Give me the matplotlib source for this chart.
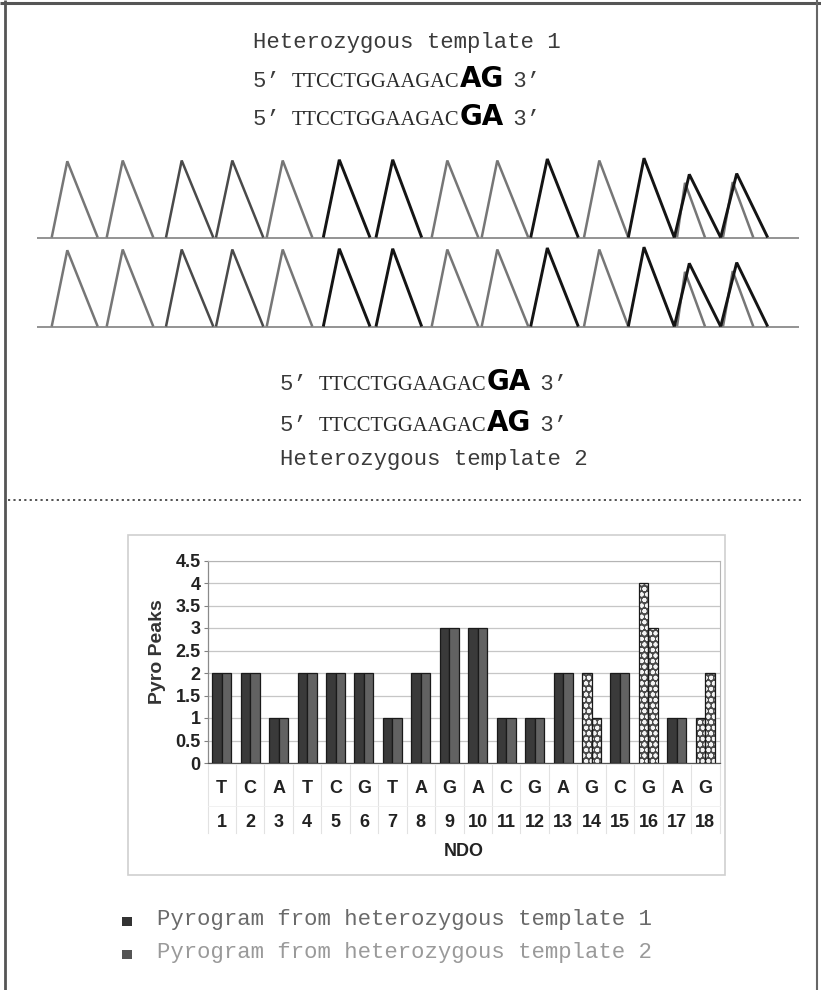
import matplotlib
matplotlib.use('Agg')
import matplotlib.pyplot as plt
import numpy as np
from matplotlib.patches import Rectangle

W, H, DPI = 821, 990, 100

# ---------------- data ----------------
dispensation = ['T', 'C', 'A', 'T', 'C', 'G', 'T', 'A', 'G', 'A', 'C', 'G', 'A', 'G', 'C', 'G', 'A', 'G']
ndo = list(range(1, 19))
template1_peaks = [2, 2, 1, 2, 2, 2, 1, 2, 3, 3, 1, 1, 2, 2, 2, 4, 1, 1]
template2_peaks = [2, 2, 1, 2, 2, 2, 1, 2, 3, 3, 1, 1, 2, 1, 2, 3, 1, 2]
y_ticks = [0, 0.5, 1, 1.5, 2, 2.5, 3, 3.5, 4, 4.5]

# pyrogram trace (flow-time units, relative peak height)
peak_start = [51.7, 106.7, 166, 216, 266.7, 323.3, 376, 431.7, 481.7, 530.7, 584, 628.3, 677, 674.3, 723, 720.7]
peak_apex = [67.3, 122.7, 181.7, 232.3, 282.7, 339.3, 392.7, 447.3, 497.3, 547.3, 599.3, 644, 685, 689.3, 732.7, 736.7]
peak_end = [97.7, 153.3, 213.3, 263.3, 312.3, 370, 421.7, 478.3, 528.3, 578.3, 628.3, 674.3, 705, 720.7, 753.3, 767.7]
peak_height = [0.99, 1.0, 1.0, 1.0, 1.0, 1.01, 1.01, 1.0, 1.0, 1.02, 1.0, 1.03, 0.71, 0.82, 0.72, 0.83]
peak_tone = ['grey', 'grey', 'dark', 'dark', 'grey', 'black', 'black', 'grey', 'grey', 'black',
             'grey', 'black', 'grey', 'black', 'grey', 'black']
trace_range = [37, 799]

header_top = 'Heterozygous template 1'
seq_top = [('TTCCTGGAAGAC', 'AG'), ('TTCCTGGAAGAC', 'GA')]
seq_bottom = [('TTCCTGGAAGAC', 'GA'), ('TTCCTGGAAGAC', 'AG')]
footer_bottom = 'Heterozygous template 2'
legend_labels = ['Pyrogram from heterozygous template 1', 'Pyrogram from heterozygous template 2']

# ---------------- styles ----------------
MONO = ['Liberation Mono', 'DejaVu Sans Mono']
SERIF = ['Liberation Serif', 'DejaVu Serif']
SANS = ['Liberation Sans', 'DejaVu Sans']
tone_color = {'grey': '#767676', 'dark': '#4a4a4a', 'black': '#141414'}
plt.rcParams['hatch.linewidth'] = 1.3

fig = plt.figure(figsize=(W / DPI, H / DPI), dpi=DPI)
fig.patch.set_facecolor('white')

# overlay axes in pixel units
ov = fig.add_axes([0, 0, 1, 1], zorder=0)
ov.set_xlim(0, W)
ov.set_ylim(H, 0)
ov.axis('off')

# frame
ov.plot([5, 5], [0, H], color='#555555', lw=2.0, solid_capstyle='butt')
ov.plot([0, W], [3, 3], color='#555555', lw=2.2, solid_capstyle='butt')
ov.plot([817, 817], [0, H], color='#666666', lw=1.5, solid_capstyle='butt')

# dotted separator
ov.plot([8, 803], [500, 500], color='#444444', lw=1.3, linestyle=(0, (1.2, 1.8)))

fig.canvas.draw()
renderer = fig.canvas.get_renderer()
inv = ov.transData.inverted()


def right_x(t):
    bb = t.get_window_extent(renderer)
    return inv.transform((bb.x1, bb.y0))[0]


MONO_SIZE = 16.0
TXT_COLOR = '#3a3a3a'
PRIME = '\u2019'


def seq_line(x, y, seq, snp):
    t0 = ov.text(x, y, '5' + PRIME + ' ', family=MONO, fontsize=MONO_SIZE, color=TXT_COLOR,
                 va='baseline', ha='left')
    x0 = right_x(t0)
    t1 = ov.text(x0 - 1, y, seq, family=SERIF, fontsize=14.8, color='#2a2a2a',
                 va='baseline', ha='left')
    x1 = right_x(t1)
    t2 = ov.text(x1, y, snp, family=['DejaVu Sans'], fontsize=20, fontweight='bold',
                 color='#000000', va='baseline', ha='left')
    x2 = right_x(t2)
    ov.text(x2 - 4, y, ' 3' + PRIME, family=MONO, fontsize=MONO_SIZE, color=TXT_COLOR,
            va='baseline', ha='left')


ov.text(253, 48, header_top, family=MONO, fontsize=MONO_SIZE, color=TXT_COLOR, va='baseline', ha='left')
for (s, snp), yb in zip(seq_top, [87, 125]):
    seq_line(253, yb, s, snp)
for (s, snp), yb in zip(seq_bottom, [390, 431]):
    seq_line(280, yb, s, snp)
ov.text(280, 465, footer_bottom, family=MONO, fontsize=MONO_SIZE, color=TXT_COLOR, va='baseline', ha='left')

# ---------------- pyrogram rows ----------------
UNIT = 77.0
for base in [237.5, 326.5]:
    pa = fig.add_axes([0, (H - base) / H, 1, UNIT * 1.1 / H], zorder=1)
    pa.set_xlim(0, W)
    pa.set_ylim(0, 1.1)
    pa.axis('off')
    pa.plot(trace_range, [0, 0], color='#8a8a8a', lw=1.3, solid_capstyle='butt', clip_on=False)
    for s, a, e, h, tone in zip(peak_start, peak_apex, peak_end, peak_height, peak_tone):
        lw = 2.1 if tone == 'black' else 1.8
        pa.plot([s, a, e], [0, h, 0], color=tone_color[tone], lw=lw,
                solid_joinstyle='miter', solid_capstyle='butt', clip_on=False)

# ---------------- bar chart ----------------
# chart outer box
ov.add_patch(Rectangle((128, 535), 725 - 128, 875 - 535, facecolor='none', edgecolor='#cfcfcf', lw=1.2))

PL, PR, PT, PB = 207.5, 719.5, 560.5, 763.0
ax = fig.add_axes([PL / W, (H - PB) / H, (PR - PL) / W, (PB - PT) / H], zorder=2)
ax.set_xlim(0.5, 18.5)
ax.set_ylim(0, 4.5)
ax.set_facecolor('white')

x = np.arange(1, len(dispensation) + 1)
bw = 0.335
for xi, v1, v2 in zip(x, template1_peaks, template2_peaks):
    differ = v1 != v2
    for xpos, v, col in [(xi - bw / 2, v1, '#3a3a3a'), (xi + bw / 2, v2, '#626262')]:
        if differ:
            ax.bar(xpos, v, bw, color='#4a4a4a', edgecolor='#f4f4f4', hatch='ooo', linewidth=0, zorder=3)
            ax.bar(xpos, v, bw, facecolor='none', edgecolor='#1a1a1a', linewidth=0.9, zorder=4)
        else:
            ax.bar(xpos, v, bw, color=col, edgecolor='#1a1a1a', linewidth=0.9, zorder=3)

TICK_FS = 13
ax.set_yticks(y_ticks)
ax.set_yticklabels([f'{v:g}' for v in y_ticks], family=SANS, fontsize=TICK_FS, fontweight='bold', color='#222222')
ax.set_xticks([])
ax.tick_params(axis='y', length=3, width=0.8, color='#808080', pad=2)
ax.yaxis.grid(True, color='#c6c6c6', lw=0.9)
ax.set_axisbelow(True)
for sp in ['top', 'right']:
    ax.spines[sp].set_color('#b4b4b4')
    ax.spines[sp].set_linewidth(0.8)
ax.spines['left'].set_color('#8a8a8a')
ax.spines['left'].set_linewidth(0.9)
ax.spines['bottom'].set_color('#555555')
ax.spines['bottom'].set_linewidth(0.9)

# data table under the plot
xt = ax.get_xaxis_transform()
for b in np.arange(0.5, 19.0, 1.0):
    ax.plot([b, b], [-0.01, -0.345], transform=xt, color='#e2e2e2', lw=0.8, clip_on=False)
ax.plot([0.5, 18.5], [-0.21, -0.21], transform=xt, color='#efefef', lw=0.6, clip_on=False)
for xi, letter, n in zip(x, dispensation, ndo):
    ax.text(xi, -0.125, letter, transform=xt, ha='center', va='center', family=SANS,
            fontsize=TICK_FS, fontweight='bold', color='#222222')
    ax.text(xi, -0.292, str(n), transform=xt, ha='center', va='center', family=SANS,
            fontsize=TICK_FS, fontweight='bold', color='#222222')

ov.text((PL + PR) / 2, 852, 'NDO', family=SANS, fontsize=TICK_FS, fontweight='bold',
        color='#222222', ha='center', va='center')
ov.text(157, 652, 'Pyro Peaks', family=SANS, fontsize=14, fontweight='bold', color='#333333',
        ha='center', va='center', rotation=90)

# ---------------- legend ----------------
leg_colors = ['#333333', '#555555']
leg_text_colors = ['#6a6a6a', '#9a9a9a']
for i, (lab, c, tc) in enumerate(zip(legend_labels, leg_colors, leg_text_colors)):
    yb = 925 + i * 33
    ov.add_patch(Rectangle((122, yb - 8.5), 9.5, 9.5, facecolor=c, edgecolor='none'))
    ov.text(157, yb, lab, family=MONO, fontsize=MONO_SIZE, color=tc, va='baseline', ha='left')

fig.savefig('out.png', dpi=DPI, facecolor='white')
